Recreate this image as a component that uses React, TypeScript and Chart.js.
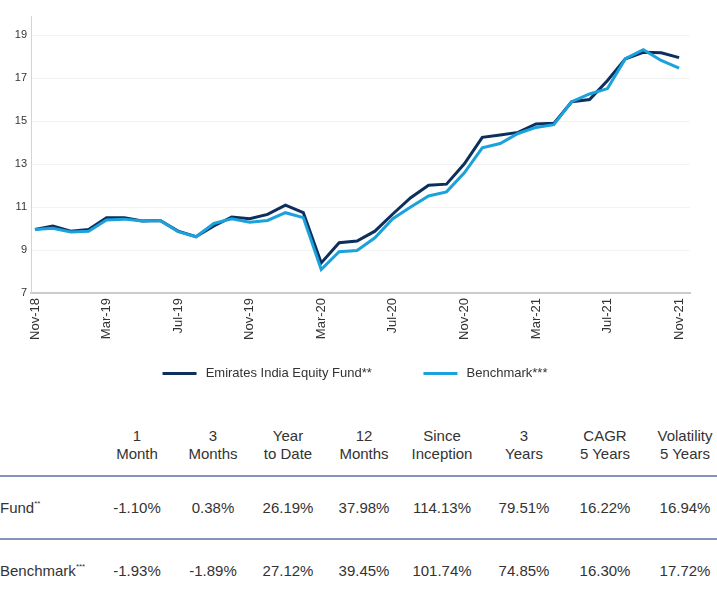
import { useEffect, useRef } from 'react';
import { Chart, registerables } from 'chart.js';
Chart.register(...registerables);

const months = ['Nov-18','Dec-18','Jan-19','Feb-19','Mar-19','Apr-19','May-19','Jun-19','Jul-19','Aug-19','Sep-19','Oct-19','Nov-19','Dec-19','Jan-20','Feb-20','Mar-20','Apr-20','May-20','Jun-20','Jul-20','Aug-20','Sep-20','Oct-20','Nov-20','Dec-20','Jan-21','Feb-21','Mar-21','Apr-21','May-21','Jun-21','Jul-21','Aug-21','Sep-21','Oct-21','Nov-21'];
const fundValues = [9.96,10.12,9.88,9.96,10.51,10.51,10.35,10.38,9.88,9.62,10.12,10.54,10.46,10.66,11.09,10.74,8.40,9.34,9.42,9.88,10.68,11.44,12.02,12.07,13.02,14.25,14.36,14.48,14.87,14.90,15.91,16.01,16.90,17.91,18.21,18.19,17.96];
const benchValues = [9.96,10.01,9.84,9.88,10.40,10.44,10.35,10.38,9.86,9.62,10.24,10.46,10.30,10.38,10.74,10.51,8.09,8.92,8.98,9.57,10.46,11.01,11.52,11.71,12.60,13.76,13.96,14.43,14.71,14.84,15.91,16.27,16.52,17.91,18.33,17.83,17.47];
const xTickIndices = [0,4,8,12,16,20,24,28,32,36];
const yTickValues = [7,9,11,13,15,17,19];
const fundLabel = 'Emirates India Equity Fund**';
const benchLabel = 'Benchmark***';

const headerLine1 = ['1','3','Year','12','Since','3','CAGR','Volatility'];
const headerLine2 = ['Month','Months','to Date','Months','Inception','Years','5 Years','5 Years'];
const fundReturns = ['-1.10%','0.38%','26.19%','37.98%','114.13%','79.51%','16.22%','16.94%'];
const benchReturns = ['-1.93%','-1.89%','27.12%','39.45%','101.74%','74.85%','16.30%','17.72%'];
const colCenters = [137,213,288,364,442,524,605,685];

const FONT = "'Liberation Sans', Arial, Helvetica, sans-serif";
const TEXT = '#333333';
const FUND_COLOR = '#0c2f5e';
const BENCH_COLOR = '#1ba1dc';
const RULE = '#8694bb';
const EM = '\u2003';
const THIN = '\u2009';

const shiftLegend = {
  id: 'shiftLegend',
  afterLayout(chart: any) {
    const l = chart.legend;
    if (l) { l.left += 10; l.right += 10; }
  },
};

export default function App() {
  const ref = useRef<HTMLCanvasElement | null>(null);
  useEffect(() => {
    document.body.style.margin = '0';
    if (!ref.current) return;
    Chart.defaults.font.family = FONT;
    Chart.defaults.color = TEXT;
    const chart = new Chart(ref.current, {
      type: 'line',
      plugins: [shiftLegend],
      data: {
        datasets: [
          {
            label: fundLabel,
            data: fundValues.map((v, i) => ({ x: i, y: v })),
            borderColor: FUND_COLOR,
            backgroundColor: FUND_COLOR,
            borderWidth: 3,
            pointRadius: 0,
            tension: 0,
            order: 1,
          },
          {
            label: benchLabel,
            data: benchValues.map((v, i) => ({ x: i, y: v })),
            borderColor: BENCH_COLOR,
            backgroundColor: BENCH_COLOR,
            borderWidth: 3,
            pointRadius: 0,
            tension: 0,
            order: 0,
          },
        ],
      },
      options: {
        animation: false,
        responsive: false,
        maintainAspectRatio: false,
        layout: { padding: { top: 16, right: 27, left: 0, bottom: 0 } },
        plugins: {
          tooltip: { enabled: false },
          legend: {
            position: 'bottom',
            labels: {
              boxWidth: 34,
              boxHeight: 3,
              padding: 10,
              color: TEXT,
              font: { size: 13, family: FONT },
              sort: (a: any, b: any) => a.datasetIndex - b.datasetIndex,
              generateLabels: (c: any) =>
                Chart.defaults.plugins.legend.labels.generateLabels(c).map((it: any) => ({
                  ...it,
                  lineWidth: 0,
                  text: it.datasetIndex === 0 ? THIN + it.text + EM + EM + EM + THIN : THIN + it.text,
                })),
            },
          },
        },
        scales: {
          x: {
            type: 'linear',
            min: -0.22,
            max: 36.61,
            afterBuildTicks: (s: any) => { s.ticks = xTickIndices.map((v) => ({ value: v })); },
            afterFit: (s: any) => { s.height = 64; },
            grid: { display: false, drawTicks: false },
            border: { color: '#cccccc', width: 2 },
            ticks: {
              autoSkip: false,
              minRotation: 90,
              maxRotation: 90,
              padding: 5,
              color: TEXT,
              font: { size: 13, family: FONT },
              callback: (v: any) => months[v as number] ?? '',
            },
          },
          y: {
            min: 7,
            max: 19.9,
            afterBuildTicks: (s: any) => { s.ticks = yTickValues.map((v) => ({ value: v })); },
            afterFit: (s: any) => { s.width = 31; },
            grid: { color: '#f3f3f3', lineWidth: 1, drawTicks: false },
            border: { color: '#d4d4d4', width: 1 },
            ticks: { padding: 4, color: TEXT, font: { size: 11, family: FONT } },
          },
        },
      },
    });
    return () => chart.destroy();
  }, []);

  const cell = (text: string, cx: number, cy: number, key: string) => (
    <div
      key={key}
      style={{ position: 'absolute', left: cx - 50, width: 100, top: cy - 10, height: 20, lineHeight: '20px', textAlign: 'center', whiteSpace: 'nowrap' }}
    >
      {text}
    </div>
  );

  return (
    <div style={{ position: 'relative', width: 717, height: 593, fontFamily: FONT, color: TEXT, fontSize: 15, background: '#fff', overflow: 'hidden' }}>
      <canvas ref={ref} width={717} height={390} style={{ display: 'block', width: 717, height: 390 }} />
      {headerLine1.map((t, i) => cell(t, colCenters[i], 436, 'h1' + i))}
      {headerLine2.map((t, i) => cell(t, colCenters[i], 454, 'h2' + i))}
      <div style={{ position: 'absolute', left: 0, width: 717, top: 475, height: 2, background: RULE }} />
      <div style={{ position: 'absolute', left: 0, top: 498, height: 20, lineHeight: '20px' }}>
        Fund<sup style={{ fontSize: 8, verticalAlign: 'top', lineHeight: '12px' }}>**</sup>
      </div>
      {fundReturns.map((t, i) => cell(t, colCenters[i], 508, 'f' + i))}
      <div style={{ position: 'absolute', left: 0, width: 717, top: 538, height: 2, background: RULE }} />
      <div style={{ position: 'absolute', left: 0, top: 561, height: 20, lineHeight: '20px' }}>
        Benchmark<sup style={{ fontSize: 8, verticalAlign: 'top', lineHeight: '12px' }}>***</sup>
      </div>
      {benchReturns.map((t, i) => cell(t, colCenters[i], 571, 'b' + i))}
    </div>
  );
}
